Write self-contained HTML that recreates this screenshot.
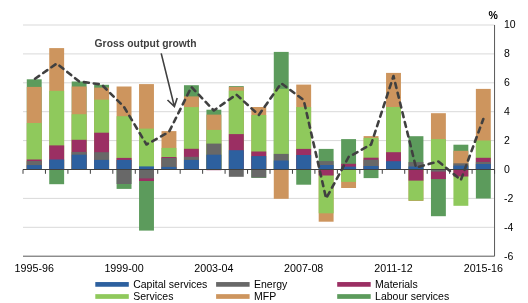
<!DOCTYPE html><html><head><meta charset="utf-8"><style>html,body{margin:0;padding:0;background:#fff;}svg{display:block;will-change:transform;}text{font-family:"Liberation Sans",sans-serif;}</style></head><body>
<svg width="528" height="303" viewBox="0 0 528 303">
<line x1="23.00" y1="25.00" x2="494.55" y2="25.00" stroke="#D9D9D9" stroke-width="1"/>
<line x1="23.00" y1="53.90" x2="494.55" y2="53.90" stroke="#D9D9D9" stroke-width="1"/>
<line x1="23.00" y1="82.80" x2="494.55" y2="82.80" stroke="#D9D9D9" stroke-width="1"/>
<line x1="23.00" y1="111.70" x2="494.55" y2="111.70" stroke="#D9D9D9" stroke-width="1"/>
<line x1="23.00" y1="140.60" x2="494.55" y2="140.60" stroke="#D9D9D9" stroke-width="1"/>
<line x1="23.00" y1="198.40" x2="494.55" y2="198.40" stroke="#D9D9D9" stroke-width="1"/>
<line x1="23.00" y1="227.30" x2="494.55" y2="227.30" stroke="#D9D9D9" stroke-width="1"/>
<rect x="26.78" y="79.30" width="14.90" height="90.20" fill="#5C9B5C"/>
<rect x="26.78" y="86.90" width="14.90" height="82.60" fill="#CD955E"/>
<rect x="26.78" y="123.00" width="14.90" height="46.50" fill="#8FC95C"/>
<rect x="26.78" y="159.50" width="14.90" height="10.00" fill="#9B2F63"/>
<rect x="26.78" y="161.00" width="14.90" height="8.50" fill="#686868"/>
<rect x="26.78" y="165.10" width="14.90" height="4.40" fill="#2D609F"/>
<rect x="49.23" y="48.10" width="14.90" height="121.40" fill="#CD955E"/>
<rect x="49.23" y="90.80" width="14.90" height="78.70" fill="#8FC95C"/>
<rect x="49.23" y="145.40" width="14.90" height="24.10" fill="#9B2F63"/>
<rect x="49.23" y="159.50" width="14.90" height="10.00" fill="#2D609F"/>
<rect x="49.23" y="169.50" width="14.90" height="14.70" fill="#5C9B5C"/>
<rect x="71.69" y="81.50" width="14.90" height="88.00" fill="#5C9B5C"/>
<rect x="71.69" y="86.50" width="14.90" height="83.00" fill="#CD955E"/>
<rect x="71.69" y="114.20" width="14.90" height="55.30" fill="#8FC95C"/>
<rect x="71.69" y="139.80" width="14.90" height="29.70" fill="#9B2F63"/>
<rect x="71.69" y="151.90" width="14.90" height="17.60" fill="#686868"/>
<rect x="71.69" y="154.70" width="14.90" height="14.80" fill="#2D609F"/>
<rect x="94.14" y="84.80" width="14.90" height="84.70" fill="#5C9B5C"/>
<rect x="94.14" y="87.60" width="14.90" height="81.90" fill="#CD955E"/>
<rect x="94.14" y="99.70" width="14.90" height="69.80" fill="#8FC95C"/>
<rect x="94.14" y="132.70" width="14.90" height="36.80" fill="#9B2F63"/>
<rect x="94.14" y="152.20" width="14.90" height="17.30" fill="#686868"/>
<rect x="94.14" y="159.90" width="14.90" height="9.60" fill="#2D609F"/>
<rect x="116.60" y="86.50" width="14.90" height="83.00" fill="#CD955E"/>
<rect x="116.60" y="116.20" width="14.90" height="53.30" fill="#8FC95C"/>
<rect x="116.60" y="157.90" width="14.90" height="11.60" fill="#9B2F63"/>
<rect x="116.60" y="159.90" width="14.90" height="9.60" fill="#2D609F"/>
<rect x="116.60" y="169.50" width="14.90" height="19.40" fill="#5C9B5C"/>
<rect x="116.60" y="169.50" width="14.90" height="14.50" fill="#686868"/>
<rect x="139.05" y="84.10" width="14.90" height="85.40" fill="#CD955E"/>
<rect x="139.05" y="128.60" width="14.90" height="40.90" fill="#8FC95C"/>
<rect x="139.05" y="166.40" width="14.90" height="3.10" fill="#2D609F"/>
<rect x="139.05" y="169.50" width="14.90" height="61.10" fill="#5C9B5C"/>
<rect x="139.05" y="169.50" width="14.90" height="11.50" fill="#9B2F63"/>
<rect x="139.05" y="169.50" width="14.90" height="8.90" fill="#686868"/>
<rect x="161.51" y="131.10" width="14.90" height="38.40" fill="#CD955E"/>
<rect x="161.51" y="147.90" width="14.90" height="21.60" fill="#8FC95C"/>
<rect x="161.51" y="157.00" width="14.90" height="12.50" fill="#9B2F63"/>
<rect x="161.51" y="158.00" width="14.90" height="11.50" fill="#686868"/>
<rect x="161.51" y="166.90" width="14.90" height="2.60" fill="#2D609F"/>
<rect x="183.96" y="85.20" width="14.90" height="84.30" fill="#5C9B5C"/>
<rect x="183.96" y="96.40" width="14.90" height="73.10" fill="#CD955E"/>
<rect x="183.96" y="107.10" width="14.90" height="62.40" fill="#8FC95C"/>
<rect x="183.96" y="148.80" width="14.90" height="20.70" fill="#9B2F63"/>
<rect x="183.96" y="156.80" width="14.90" height="12.70" fill="#686868"/>
<rect x="183.96" y="159.90" width="14.90" height="9.60" fill="#2D609F"/>
<rect x="206.42" y="109.70" width="14.90" height="59.80" fill="#5C9B5C"/>
<rect x="206.42" y="114.60" width="14.90" height="54.90" fill="#CD955E"/>
<rect x="206.42" y="129.90" width="14.90" height="39.60" fill="#8FC95C"/>
<rect x="206.42" y="143.60" width="14.90" height="25.90" fill="#686868"/>
<rect x="206.42" y="154.70" width="14.90" height="14.80" fill="#2D609F"/>
<rect x="206.42" y="169.50" width="14.90" height="0.70" fill="#9B2F63"/>
<rect x="228.87" y="86.10" width="14.90" height="83.40" fill="#5C9B5C"/>
<rect x="228.87" y="86.90" width="14.90" height="82.60" fill="#CD955E"/>
<rect x="228.87" y="90.70" width="14.90" height="78.80" fill="#8FC95C"/>
<rect x="228.87" y="134.10" width="14.90" height="35.40" fill="#9B2F63"/>
<rect x="228.87" y="150.20" width="14.90" height="19.30" fill="#2D609F"/>
<rect x="228.87" y="169.50" width="14.90" height="7.30" fill="#686868"/>
<rect x="251.32" y="107.00" width="14.90" height="62.50" fill="#CD955E"/>
<rect x="251.32" y="115.00" width="14.90" height="54.50" fill="#8FC95C"/>
<rect x="251.32" y="151.50" width="14.90" height="18.00" fill="#9B2F63"/>
<rect x="251.32" y="156.10" width="14.90" height="13.40" fill="#2D609F"/>
<rect x="251.32" y="169.50" width="14.90" height="8.40" fill="#5C9B5C"/>
<rect x="251.32" y="169.50" width="14.90" height="8.00" fill="#686868"/>
<rect x="273.78" y="51.90" width="14.90" height="117.60" fill="#5C9B5C"/>
<rect x="273.78" y="88.80" width="14.90" height="80.70" fill="#8FC95C"/>
<rect x="273.78" y="153.90" width="14.90" height="15.60" fill="#686868"/>
<rect x="273.78" y="160.50" width="14.90" height="9.00" fill="#2D609F"/>
<rect x="273.78" y="169.50" width="14.90" height="29.30" fill="#CD955E"/>
<rect x="296.23" y="84.60" width="14.90" height="84.90" fill="#CD955E"/>
<rect x="296.23" y="107.10" width="14.90" height="62.40" fill="#8FC95C"/>
<rect x="296.23" y="148.90" width="14.90" height="20.60" fill="#9B2F63"/>
<rect x="296.23" y="155.00" width="14.90" height="14.50" fill="#2D609F"/>
<rect x="296.23" y="169.50" width="14.90" height="15.20" fill="#5C9B5C"/>
<rect x="318.69" y="148.90" width="14.90" height="20.60" fill="#5C9B5C"/>
<rect x="318.69" y="161.10" width="14.90" height="8.40" fill="#686868"/>
<rect x="318.69" y="165.00" width="14.90" height="4.50" fill="#2D609F"/>
<rect x="318.69" y="169.50" width="14.90" height="52.20" fill="#CD955E"/>
<rect x="318.69" y="169.50" width="14.90" height="43.80" fill="#8FC95C"/>
<rect x="318.69" y="169.50" width="14.90" height="6.00" fill="#9B2F63"/>
<rect x="341.14" y="139.10" width="14.90" height="30.40" fill="#5C9B5C"/>
<rect x="341.14" y="163.80" width="14.90" height="5.70" fill="#9B2F63"/>
<rect x="341.14" y="166.60" width="14.90" height="2.90" fill="#2D609F"/>
<rect x="341.14" y="169.50" width="14.90" height="18.50" fill="#CD955E"/>
<rect x="341.14" y="169.50" width="14.90" height="12.40" fill="#8FC95C"/>
<rect x="363.60" y="136.10" width="14.90" height="33.40" fill="#CD955E"/>
<rect x="363.60" y="137.90" width="14.90" height="31.60" fill="#8FC95C"/>
<rect x="363.60" y="157.70" width="14.90" height="11.80" fill="#9B2F63"/>
<rect x="363.60" y="159.70" width="14.90" height="9.80" fill="#686868"/>
<rect x="363.60" y="166.00" width="14.90" height="3.50" fill="#2D609F"/>
<rect x="363.60" y="169.50" width="14.90" height="8.60" fill="#5C9B5C"/>
<rect x="386.05" y="72.90" width="14.90" height="96.60" fill="#CD955E"/>
<rect x="386.05" y="107.00" width="14.90" height="62.50" fill="#8FC95C"/>
<rect x="386.05" y="152.20" width="14.90" height="17.30" fill="#9B2F63"/>
<rect x="386.05" y="161.20" width="14.90" height="8.30" fill="#2D609F"/>
<rect x="408.51" y="136.20" width="14.90" height="33.30" fill="#5C9B5C"/>
<rect x="408.51" y="162.10" width="14.90" height="7.40" fill="#686868"/>
<rect x="408.51" y="166.50" width="14.90" height="3.00" fill="#2D609F"/>
<rect x="408.51" y="169.50" width="14.90" height="31.50" fill="#CD955E"/>
<rect x="408.51" y="169.50" width="14.90" height="31.00" fill="#8FC95C"/>
<rect x="408.51" y="169.50" width="14.90" height="11.10" fill="#9B2F63"/>
<rect x="430.96" y="113.20" width="14.90" height="56.30" fill="#CD955E"/>
<rect x="430.96" y="139.10" width="14.90" height="30.40" fill="#8FC95C"/>
<rect x="430.96" y="169.50" width="14.90" height="46.70" fill="#5C9B5C"/>
<rect x="430.96" y="169.50" width="14.90" height="9.60" fill="#9B2F63"/>
<rect x="430.96" y="169.50" width="14.90" height="2.10" fill="#686868"/>
<rect x="453.42" y="144.70" width="14.90" height="24.80" fill="#5C9B5C"/>
<rect x="453.42" y="150.80" width="14.90" height="18.70" fill="#CD955E"/>
<rect x="453.42" y="163.30" width="14.90" height="6.20" fill="#686868"/>
<rect x="453.42" y="165.60" width="14.90" height="3.90" fill="#2D609F"/>
<rect x="453.42" y="169.50" width="14.90" height="36.30" fill="#8FC95C"/>
<rect x="453.42" y="169.50" width="14.90" height="7.00" fill="#9B2F63"/>
<rect x="475.87" y="88.90" width="14.90" height="80.60" fill="#CD955E"/>
<rect x="475.87" y="140.50" width="14.90" height="29.00" fill="#8FC95C"/>
<rect x="475.87" y="157.80" width="14.90" height="11.70" fill="#9B2F63"/>
<rect x="475.87" y="161.90" width="14.90" height="7.60" fill="#686868"/>
<rect x="475.87" y="164.00" width="14.90" height="5.50" fill="#2D609F"/>
<rect x="475.87" y="169.50" width="14.90" height="29.00" fill="#5C9B5C"/>
<line x1="23.00" y1="169.50" x2="494.55" y2="169.50" stroke="#404040" stroke-width="1"/>
<line x1="23.00" y1="256.20" x2="494.55" y2="256.20" stroke="#595959" stroke-width="1"/>
<line x1="494.55" y1="25.00" x2="494.55" y2="256.20" stroke="#595959" stroke-width="1"/>
<line x1="23.00" y1="169.50" x2="23.00" y2="173.80" stroke="#404040" stroke-width="1"/>
<line x1="45.45" y1="169.50" x2="45.45" y2="173.80" stroke="#404040" stroke-width="1"/>
<line x1="67.91" y1="169.50" x2="67.91" y2="173.80" stroke="#404040" stroke-width="1"/>
<line x1="90.36" y1="169.50" x2="90.36" y2="173.80" stroke="#404040" stroke-width="1"/>
<line x1="112.82" y1="169.50" x2="112.82" y2="173.80" stroke="#404040" stroke-width="1"/>
<line x1="135.27" y1="169.50" x2="135.27" y2="173.80" stroke="#404040" stroke-width="1"/>
<line x1="157.73" y1="169.50" x2="157.73" y2="173.80" stroke="#404040" stroke-width="1"/>
<line x1="180.18" y1="169.50" x2="180.18" y2="173.80" stroke="#404040" stroke-width="1"/>
<line x1="202.64" y1="169.50" x2="202.64" y2="173.80" stroke="#404040" stroke-width="1"/>
<line x1="225.09" y1="169.50" x2="225.09" y2="173.80" stroke="#404040" stroke-width="1"/>
<line x1="247.55" y1="169.50" x2="247.55" y2="173.80" stroke="#404040" stroke-width="1"/>
<line x1="270.00" y1="169.50" x2="270.00" y2="173.80" stroke="#404040" stroke-width="1"/>
<line x1="292.46" y1="169.50" x2="292.46" y2="173.80" stroke="#404040" stroke-width="1"/>
<line x1="314.91" y1="169.50" x2="314.91" y2="173.80" stroke="#404040" stroke-width="1"/>
<line x1="337.37" y1="169.50" x2="337.37" y2="173.80" stroke="#404040" stroke-width="1"/>
<line x1="359.82" y1="169.50" x2="359.82" y2="173.80" stroke="#404040" stroke-width="1"/>
<line x1="382.28" y1="169.50" x2="382.28" y2="173.80" stroke="#404040" stroke-width="1"/>
<line x1="404.73" y1="169.50" x2="404.73" y2="173.80" stroke="#404040" stroke-width="1"/>
<line x1="427.19" y1="169.50" x2="427.19" y2="173.80" stroke="#404040" stroke-width="1"/>
<line x1="449.64" y1="169.50" x2="449.64" y2="173.80" stroke="#404040" stroke-width="1"/>
<line x1="472.10" y1="169.50" x2="472.10" y2="173.80" stroke="#404040" stroke-width="1"/>
<line x1="494.55" y1="169.50" x2="494.55" y2="173.80" stroke="#404040" stroke-width="1"/>
<polyline points="34.23,79.30 56.68,63.50 79.14,81.50 101.59,84.50 124.05,107.00 146.50,144.50 168.96,132.00 191.41,87.00 213.87,110.50 236.32,94.50 258.77,115.00 281.23,83.30 303.68,100.00 326.14,198.50 348.59,157.00 371.05,144.50 393.50,76.00 415.96,167.50 438.41,161.50 460.87,180.00 483.32,119.00" fill="none" stroke="#404040" stroke-width="2.6" stroke-linecap="round" stroke-linejoin="round" stroke-dasharray="5 5" stroke-dashoffset="-1"/>
<path d="M161.2,53.4 L174.4,106.6 M167.5,100.0 L174.4,106.6 L177.2,98.0" fill="none" stroke="#404040" stroke-width="1.6"/>
<text x="94.6" y="47.2" font-size="11" font-weight="bold" fill="#404040" textLength="102" lengthAdjust="spacingAndGlyphs">Gross output growth</text>
<text x="488.5" y="19.4" font-size="10.5" font-weight="bold" fill="#000">%</text>
<text x="503.9" y="28.40" font-size="10.5" fill="#000">10</text>
<text x="503.9" y="57.30" font-size="10.5" fill="#000">8</text>
<text x="503.9" y="86.20" font-size="10.5" fill="#000">6</text>
<text x="503.9" y="115.10" font-size="10.5" fill="#000">4</text>
<text x="503.9" y="144.00" font-size="10.5" fill="#000">2</text>
<text x="503.9" y="172.90" font-size="10.5" fill="#000">0</text>
<text x="503.9" y="201.80" font-size="10.5" fill="#000">-2</text>
<text x="503.9" y="230.70" font-size="10.5" fill="#000">-4</text>
<text x="503.9" y="259.60" font-size="10.5" fill="#000">-6</text>
<text x="34.23" y="272.3" font-size="10.7" fill="#000" text-anchor="middle">1995-96</text>
<text x="124.05" y="272.3" font-size="10.7" fill="#000" text-anchor="middle">1999-00</text>
<text x="213.87" y="272.3" font-size="10.7" fill="#000" text-anchor="middle">2003-04</text>
<text x="303.68" y="272.3" font-size="10.7" fill="#000" text-anchor="middle">2007-08</text>
<text x="393.50" y="272.3" font-size="10.7" fill="#000" text-anchor="middle">2011-12</text>
<text x="483.32" y="272.3" font-size="10.7" fill="#000" text-anchor="middle">2015-16</text>
<rect x="95.30" y="282.05" width="33.5" height="4.7" fill="#2D609F"/>
<text x="133.20" y="287.90" font-size="10.5" fill="#000">Capital services</text>
<rect x="216.10" y="282.05" width="33.5" height="4.7" fill="#686868"/>
<text x="254.00" y="287.90" font-size="10.5" fill="#000">Energy</text>
<rect x="337.20" y="282.05" width="33.5" height="4.7" fill="#9B2F63"/>
<text x="375.10" y="287.90" font-size="10.5" fill="#000">Materials</text>
<rect x="95.30" y="294.15" width="33.5" height="4.7" fill="#8FC95C"/>
<text x="133.20" y="300.00" font-size="10.5" fill="#000">Services</text>
<rect x="216.10" y="294.15" width="33.5" height="4.7" fill="#CD955E"/>
<text x="254.00" y="300.00" font-size="10.5" fill="#000">MFP</text>
<rect x="337.20" y="294.15" width="33.5" height="4.7" fill="#5C9B5C"/>
<text x="375.10" y="300.00" font-size="10.5" fill="#000">Labour services</text>
</svg></body></html>
